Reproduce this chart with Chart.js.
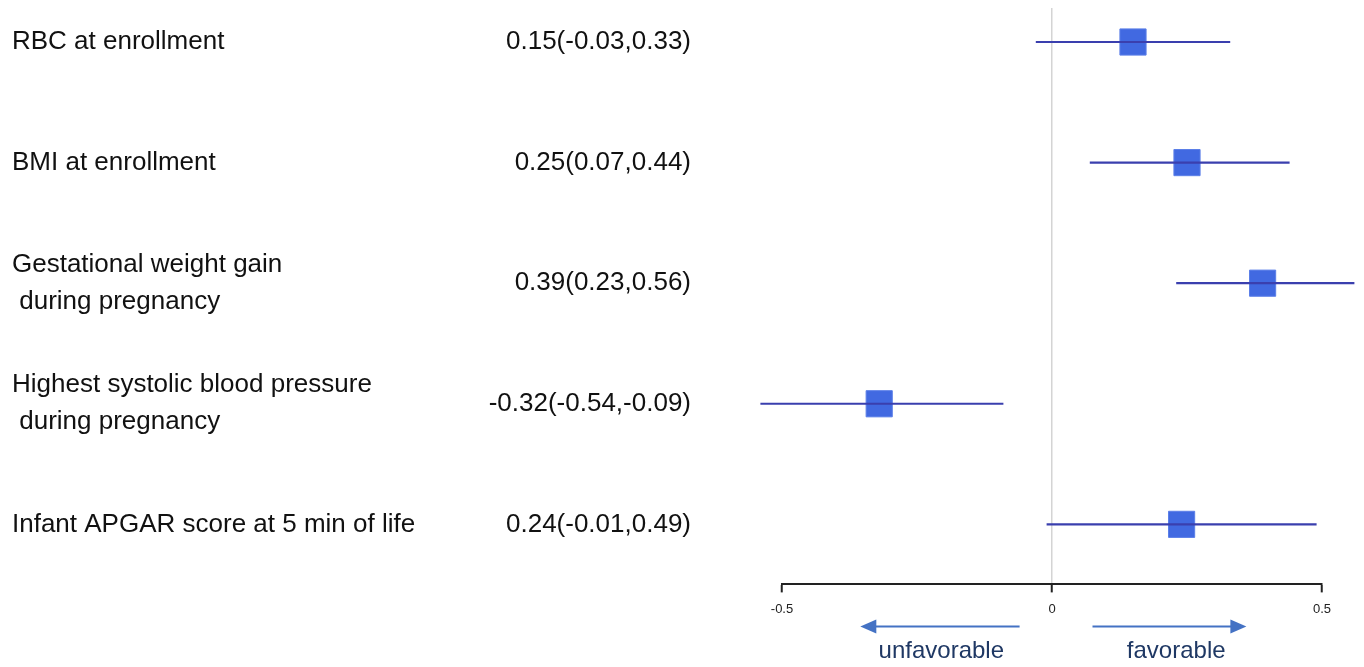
<!DOCTYPE html>
<html>
<head>
<meta charset="utf-8">
<script src="https://cdn.jsdelivr.net/npm/chart.js@4/dist/chart.umd.min.js"></script>
<style>
  html, body { margin: 0; padding: 0; background: #fff; }
  #wrap { width: 1364px; height: 667px; }
</style>
</head>
<body>
<div id="wrap"><canvas id="forest"></canvas></div>
<script>
// rows, top to bottom
const labels = [
  ['RBC at enrollment'],
  ['BMI at enrollment'],
  ['Gestational weight gain', ' during pregnancy'],
  ['Highest systolic blood pressure', ' during pregnancy'],
  ['Infant APGAR score at 5 min of life']
]
const estimate = [0.15, 0.25, 0.39, -0.32, 0.24]
const lower = [-0.03, 0.07, 0.23, -0.54, -0.01]
const upper = [0.33, 0.44, 0.56, -0.09, 0.49]
const xTicks = [-0.5, 0, 0.5]

const rows = labels.map((l, i) => i + 1)

// one line per confidence interval
const ciSets = rows.map((r, i) => ({
  type: 'line',
  data: [{x: lower[i], y: r}, {x: upper[i], y: r}],
  borderColor: '#3a3fae',
  borderWidth: 2.2,
  pointRadius: 0,
  clip: false
}))

const pointSet = {
  type: 'scatter',
  data: rows.map((r, i) => ({x: estimate[i], y: r})),
  pointStyle: 'rect',
  pointRadius: 18.5,
  backgroundColor: '#4169e1',
  borderColor: '#5b7fe8',
  borderWidth: 1,
  clip: false
}

function fmt(v){ return v.toFixed(2) }

// texts on the left and the arrows under the axis
const sidePlugin = {
  id: 'side',
  afterDraw(chart){
    const ctx = chart.ctx
    const y = chart.scales.y
    const x = chart.scales.x
    ctx.save()
    ctx.fillStyle = '#111'
    ctx.font = '26px "Liberation Sans", Arial, sans-serif'
    ctx.textBaseline = 'middle'
    rows.forEach((r, i) => {
      const py = y.getPixelForValue(r)
      const lines = labels[i]
      const lh = 37
      let top = py - (lines.length - 1) * lh / 2
      ctx.textAlign = 'left'
      lines.forEach((t, k) => ctx.fillText(t, 12, top + k * lh))
      ctx.textAlign = 'right'
      ctx.fillText(fmt(estimate[i]) + '(' + fmt(lower[i]) + ',' + fmt(upper[i]) + ')', 691, py)
    })

    // arrows
    const ay = chart.chartArea.bottom + 42
    function arrow(from, to){
      const x1 = x.getPixelForValue(from), x2 = x.getPixelForValue(to)
      const dir = Math.sign(x2 - x1)
      ctx.strokeStyle = '#4472c4'
      ctx.fillStyle = '#4472c4'
      ctx.lineWidth = 2
      ctx.beginPath()
      ctx.moveTo(x1, ay)
      ctx.lineTo(x2 - dir * 12, ay)
      ctx.stroke()
      ctx.beginPath()
      ctx.moveTo(x2, ay)
      ctx.lineTo(x2 - dir * 16, ay - 7)
      ctx.lineTo(x2 - dir * 16, ay + 7)
      ctx.closePath()
      ctx.fill()
    }
    arrow(-0.06, -0.355)
    arrow(0.075, 0.36)

    ctx.fillStyle = '#1f3864'
    ctx.font = '24px "Liberation Sans", Arial, sans-serif'
    ctx.textAlign = 'center'
    ctx.textBaseline = 'alphabetic'
    ctx.fillText('unfavorable', x.getPixelForValue(-0.205), chart.chartArea.bottom + 74)
    ctx.fillText('favorable', x.getPixelForValue(0.23), chart.chartArea.bottom + 74)
    ctx.restore()
  }
}

new Chart(document.getElementById('forest'), {
  data: { datasets: [...ciSets, pointSet] },
  options: {
    responsive: true,
    maintainAspectRatio: false,
    animation: false,
    layout: { autoPadding: false, padding: { left: 782, right: 42, top: 8, bottom: 41 } },
    plugins: { legend: { display: false }, tooltip: { enabled: false } },
    scales: {
      x: {
        type: 'linear',
        min: -0.5,
        max: 0.5,
        afterBuildTicks: s => { s.ticks = xTicks.map(v => ({value: v})) },
        ticks: {
          color: '#222',
          font: { size: 13, family: '"Liberation Sans", Arial, sans-serif' },
          padding: 9,
          maxRotation: 0,
          callback: v => v === 0 ? '0' : String(v)
        },
        grid: {
          drawOnChartArea: true,
          color: c => c.tick && c.tick.value === 0 ? '#d4d4d4' : 'rgba(0,0,0,0)',
          lineWidth: 1.5,
          tickColor: '#222',
          tickWidth: 2,
          tickLength: 8
        },
        border: { display: true, color: '#222', width: 2 }
      },
      y: {
        type: 'linear',
        display: false,
        reverse: true,
        min: 0.718,
        max: 5.498
      }
    }
  },
  plugins: [sidePlugin]
})
</script>
</body>
</html>
